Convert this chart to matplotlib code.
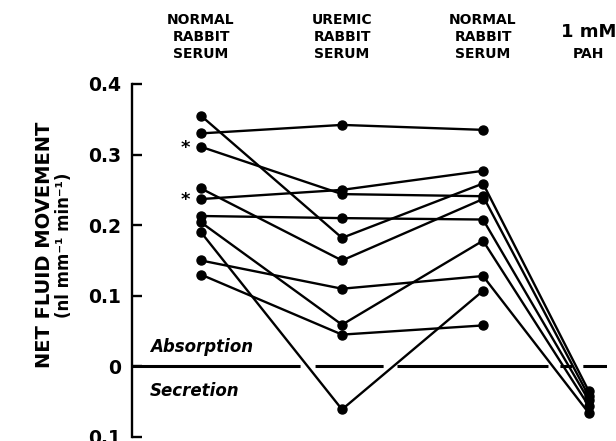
import matplotlib
matplotlib.use("Agg")
import matplotlib.pyplot as plt
import matplotlib.transforms as mtransforms
import numpy as np

# x positions of the four test conditions
conditions = ["NORMAL\nRABBIT\nSERUM", "UREMIC\nRABBIT\nSERUM", "NORMAL\nRABBIT\nSERUM", "PAH"]
x_pos = [1, 2, 3, 3.75]

# one row per tubule: normal, uremic, normal, 1 mM PAH (nan = not measured)
tubule_1 = [0.355, 0.182, 0.259, -0.035]
tubule_2 = [0.330, 0.342, 0.335, np.nan]
tubule_3 = [0.311, 0.244, 0.241, -0.042]
tubule_4 = [0.252, 0.150, 0.237, np.nan]
tubule_5 = [0.237, 0.250, 0.277, np.nan]
tubule_6 = [0.213, 0.210, 0.208, -0.048]
tubule_7 = [0.204, 0.059, 0.178, -0.056]
tubule_8 = [0.190, -0.061, 0.107, np.nan]
tubule_9 = [0.150, 0.110, 0.128, -0.066]
tubule_10 = [0.130, 0.045, 0.058, np.nan]
tubules = [tubule_1, tubule_2, tubule_3, tubule_4, tubule_5,
           tubule_6, tubule_7, tubule_8, tubule_9, tubule_10]

# tubules marked with an asterisk (first value)
starred = [tubule_3, tubule_5]

y_ticks = [0.4, 0.3, 0.2, 0.1, 0, -0.1]
y_ticklabels = ["0.4", "0.3", "0.2", "0.1", "0", "0.1"]

plt.rcParams["lines.scale_dashes"] = False

fig = plt.figure(figsize=(6.16, 4.41), dpi=100)
ax = fig.add_axes([0.2143, 0.0091, 0.7711, 0.8005])

for t in tubules:
    t = np.array(t)
    ok = ~np.isnan(t)
    ax.plot(np.array(x_pos)[ok], t[ok], color="black", lw=1.7, marker="o",
            ms=6.5, clip_on=False, zorder=3)

for t in starred:
    ax.annotate("*", (x_pos[0], t[0]), xytext=(-8, -1), textcoords="offset points",
                ha="right", va="center", fontsize=13, fontweight="bold")

# hand drawn dashed zero line
ax.axhline(0, color="black", lw=2.2, dashes=[121, 10.8, 49, 10, 108.7, 8.6, 8.6, 7.9, 17.3],
           zorder=2)

ax.text(1 - 0.36, 0.028, "Absorption", fontsize=12, fontweight="bold", style="italic",
        ha="left", va="center")
ax.text(1 - 0.36, -0.035, "Secretion", fontsize=12, fontweight="bold", style="italic",
        ha="left", va="center")

ax.set_xlim(1 - 69 / 141, 1 + 406 / 141)
ax.set_ylim(-0.1, 0.4)
ax.set_xticks([])
ax.set_yticks(y_ticks)
ax.set_yticklabels(y_ticklabels, fontsize=13.5, fontweight="bold")
ax.tick_params(axis="y", direction="in", length=7.5, width=1.7, pad=8)
for s in ["top", "right", "bottom"]:
    ax.spines[s].set_visible(False)
ax.spines["left"].set_linewidth(1.7)
ax.patch.set_alpha(0)

# column headers above the plot
trans = mtransforms.blended_transform_factory(ax.transData, fig.transFigure)
for x, lab in zip(x_pos[:3], conditions[:3]):
    ax.text(x, 0.916, lab, transform=trans, ha="center", va="center", fontsize=10,
            fontweight="bold", linespacing=1.3)
ax.text(x_pos[3], 0.927, "1 mM", transform=trans, ha="center", va="center",
        fontsize=13, fontweight="bold")
ax.text(x_pos[3], 0.878, conditions[3], transform=trans, ha="center", va="center",
        fontsize=10, fontweight="bold")

fig.text(45 / 616, 1 - 245 / 441, "NET FLUID MOVEMENT", rotation=90, ha="center",
         va="center", fontsize=14, fontweight="bold")
fig.text(64 / 616, 1 - 245 / 441, "(nl mm\u207b\u00b9 min\u207b\u00b9)", rotation=90,
         ha="center", va="center", fontsize=12, fontweight="bold")

fig.savefig("out.png", dpi=100)
